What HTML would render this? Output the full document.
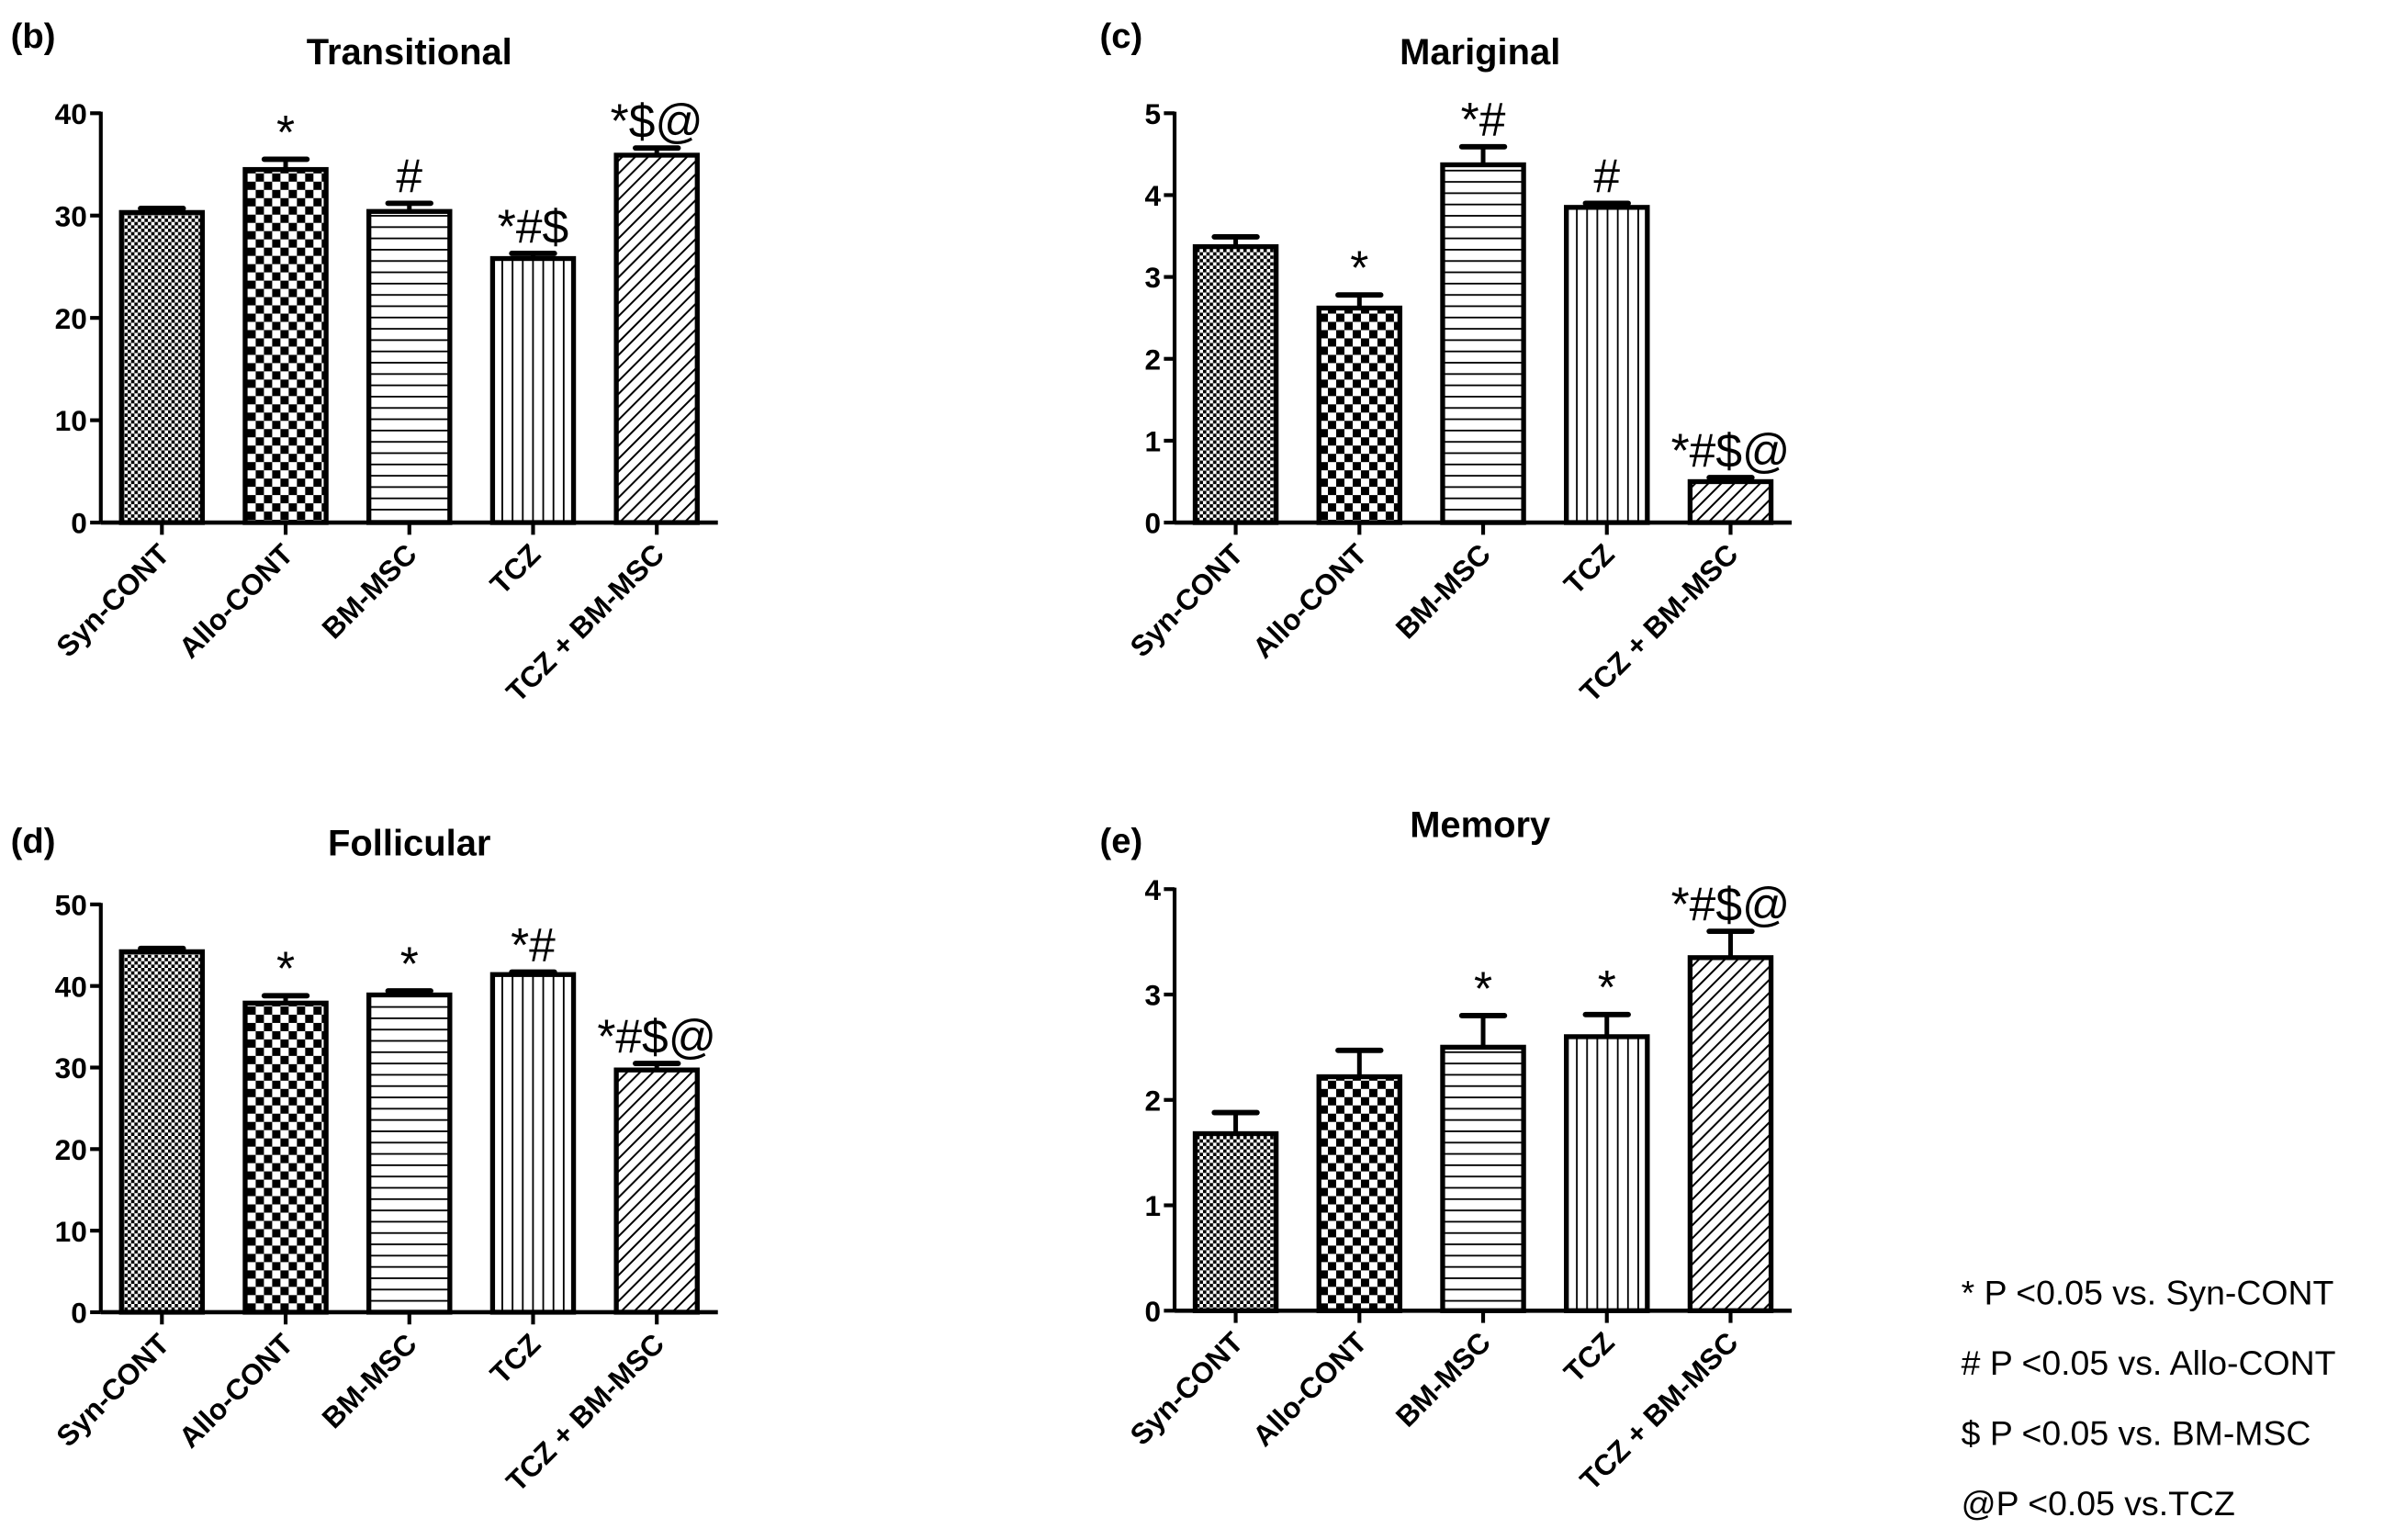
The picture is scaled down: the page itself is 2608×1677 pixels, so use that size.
<!DOCTYPE html>
<html><head><meta charset="utf-8"><style>
html,body{margin:0;padding:0;background:#fff;}
svg{display:block;font-family:"Liberation Sans",Arial,sans-serif;}
</style></head><body>
<svg id="fig" width="2608" height="1677" viewBox="0 0 1568 1008" xmlns="http://www.w3.org/2000/svg">
<defs>
<pattern id="pFine" width="4.4" height="4.4" patternUnits="userSpaceOnUse"><rect width="4.4" height="4.4" fill="#fff"/><rect width="2.2" height="2.2" fill="#000"/><rect x="2.2" y="2.2" width="2.2" height="2.2" fill="#000"/></pattern>
<pattern id="pCoarse" width="10.8" height="10.8" patternUnits="userSpaceOnUse"><rect width="10.8" height="10.8" fill="#fff"/><rect width="5.4" height="5.4" fill="#000"/><rect x="5.4" y="5.4" width="5.4" height="5.4" fill="#000"/></pattern>
<pattern id="pHoriz" width="10" height="7.4" patternUnits="userSpaceOnUse"><rect width="10" height="7.4" fill="#fff"/><rect y="0" width="10" height="1.1" fill="#000"/></pattern>
<pattern id="pVert" width="6.7" height="10" patternUnits="userSpaceOnUse"><rect width="6.7" height="10" fill="#fff"/><rect x="0" width="1.1" height="10" fill="#000"/></pattern>
<pattern id="pDiag" width="6" height="6" patternUnits="userSpaceOnUse" patternTransform="rotate(45)"><rect width="6" height="6" fill="#fff"/><rect width="1.2" height="6" fill="#000"/></pattern>
</defs>
<g id="legend" font-size="22.5" fill="#000">
<text x="1284" y="854">* P &lt;0.05 vs. Syn-CONT</text>
<text x="1284" y="900"># P &lt;0.05 vs. Allo-CONT</text>
<text x="1284" y="946">$ P &lt;0.05 vs. BM-MSC</text>
<text x="1284" y="992">@P &lt;0.05 vs.TCZ</text>
</g>
</svg>
<script>
const categories = ["Syn-CONT","Allo-CONT","BM-MSC","TCZ","TCZ + BM-MSC"];
const fills = ["pFine","pCoarse","pHoriz","pVert","pDiag"];

const bValues = [30.3, 34.5, 30.4, 25.8, 35.9];
const bErrors = [0.4, 1.0, 0.8, 0.5, 0.7];
const bMarks = ["", "*", "#", "*#$", "*$@"];
const bTicks = [0,10,20,30,40];

const cValues = [3.37, 2.62, 4.37, 3.85, 0.50];
const cErrors = [0.12, 0.16, 0.22, 0.05, 0.05];
const cMarks = ["", "*", "*#", "#", "*#$@"];
const cTicks = [0,1,2,3,4,5];

const dValues = [44.2, 37.9, 38.9, 41.4, 29.7];
const dErrors = [0.4, 0.9, 0.5, 0.3, 0.8];
const dMarks = ["", "*", "*", "*#", "*#$@"];
const dTicks = [0,10,20,30,40,50];

const eValues = [1.68, 2.22, 2.50, 2.60, 3.35];
const eErrors = [0.20, 0.25, 0.30, 0.21, 0.25];
const eMarks = ["", "", "*", "*", "*#$@"];
const eTicks = [0,1,2,3,4];

const NS = "http://www.w3.org/2000/svg";
const svg = document.getElementById("fig");
function mk(tag, attrs, parent){ const e=document.createElementNS(NS,tag); for(const k in attrs) e.setAttribute(k,attrs[k]); (parent||svg).appendChild(e); return e; }

function panel(id, letter, title, values, errors, marks, ticks, ax){
  const g = mk("g",{});
  
  
  const ymax = ticks[ticks.length-1];
  const y = v => ax.y0 - (v/ymax)*(ax.y0-ax.y1);
  const x = i => ax.x0 + ax.first + i*ax.step;
  const lt = mk("text",{x:ax.lx, y:ax.ly, "font-size":23, "font-weight":"bold"}, g); lt.textContent = "("+letter+")";
  
  
  const tt = mk("text",{x:ax.tx, y:ax.ty, "font-size":24, "font-weight":"bold", "text-anchor":"middle"}, g); tt.textContent = title;
  
  
  values.forEach((v,i)=>{
    const cx = x(i), w = 53;
    const top = y(v), etop = y(v+errors[i]);
    const eb = mk("g",{}, g);
    
    
    mk("line",{x1:cx,x2:cx,y1:top,y2:etop,stroke:"#000","stroke-width":3}, eb);
    mk("line",{x1:cx-14,x2:cx+14,y1:etop,y2:etop,stroke:"#000","stroke-width":3.5,"stroke-linecap":"round"}, eb);
    const r = mk("rect",{x:cx-w/2, y:top, width:w, height:ax.y0-top, fill:"url(#"+fills[i]+")", stroke:"#000","stroke-width":3.2}, g);
    
    
    if(marks[i]){
      const m = mk("text",{x:cx, y:etop-7, "font-size":31, "text-anchor":"middle"}, g); m.textContent = marks[i];
      
      
    }
    mk("line",{x1:cx,x2:cx,y1:ax.y0,y2:ax.y0+8,stroke:"#000","stroke-width":2.5}, g);
    const lab = mk("text",{x:0,y:0,"font-size":19,"font-weight":"bold","text-anchor":"end",transform:"translate("+(cx+6)+","+(ax.y0+22)+") rotate(-45)"}, g);
    lab.textContent = categories[i];
    
    
  });
  const ya = mk("line",{x1:ax.x0,x2:ax.x0,y1:ax.y1-1,y2:ax.y0,stroke:"#000","stroke-width":2.5}, g);
  
  
  const xa = mk("line",{x1:ax.x0,x2:ax.x0+ax.len,y1:ax.y0,y2:ax.y0,stroke:"#000","stroke-width":2.8}, g);
  
  
  ticks.forEach(t=>{
    mk("line",{x1:ax.x0-7,x2:ax.x0,y1:y(t),y2:y(t),stroke:"#000","stroke-width":2.5}, g);
    const tl = mk("text",{x:ax.x0-9, y:y(t)+7, "font-size":19, "font-weight":"bold","text-anchor":"end"}, g); tl.textContent = t;
    
    
  });
}
panel("b","b","Transitional", bValues, bErrors, bMarks, bTicks, {x0:66,y0:342,y1:74,first:40,step:81,len:404,lx:7,ly:31,tx:268,ty:42});
panel("c","c","Mariginal", cValues, cErrors, cMarks, cTicks, {x0:769,y0:342,y1:74,first:40,step:81,len:404,lx:720,ly:31,tx:969,ty:42});
panel("d","d","Follicular", dValues, dErrors, dMarks, dTicks, {x0:66,y0:859,y1:592,first:40,step:81,len:404,lx:7,ly:558,tx:268,ty:560});
panel("e","e","Memory", eValues, eErrors, eMarks, eTicks, {x0:769,y0:858,y1:582,first:40,step:81,len:404,lx:720,ly:558,tx:969,ty:548});
</script>
</body></html>
